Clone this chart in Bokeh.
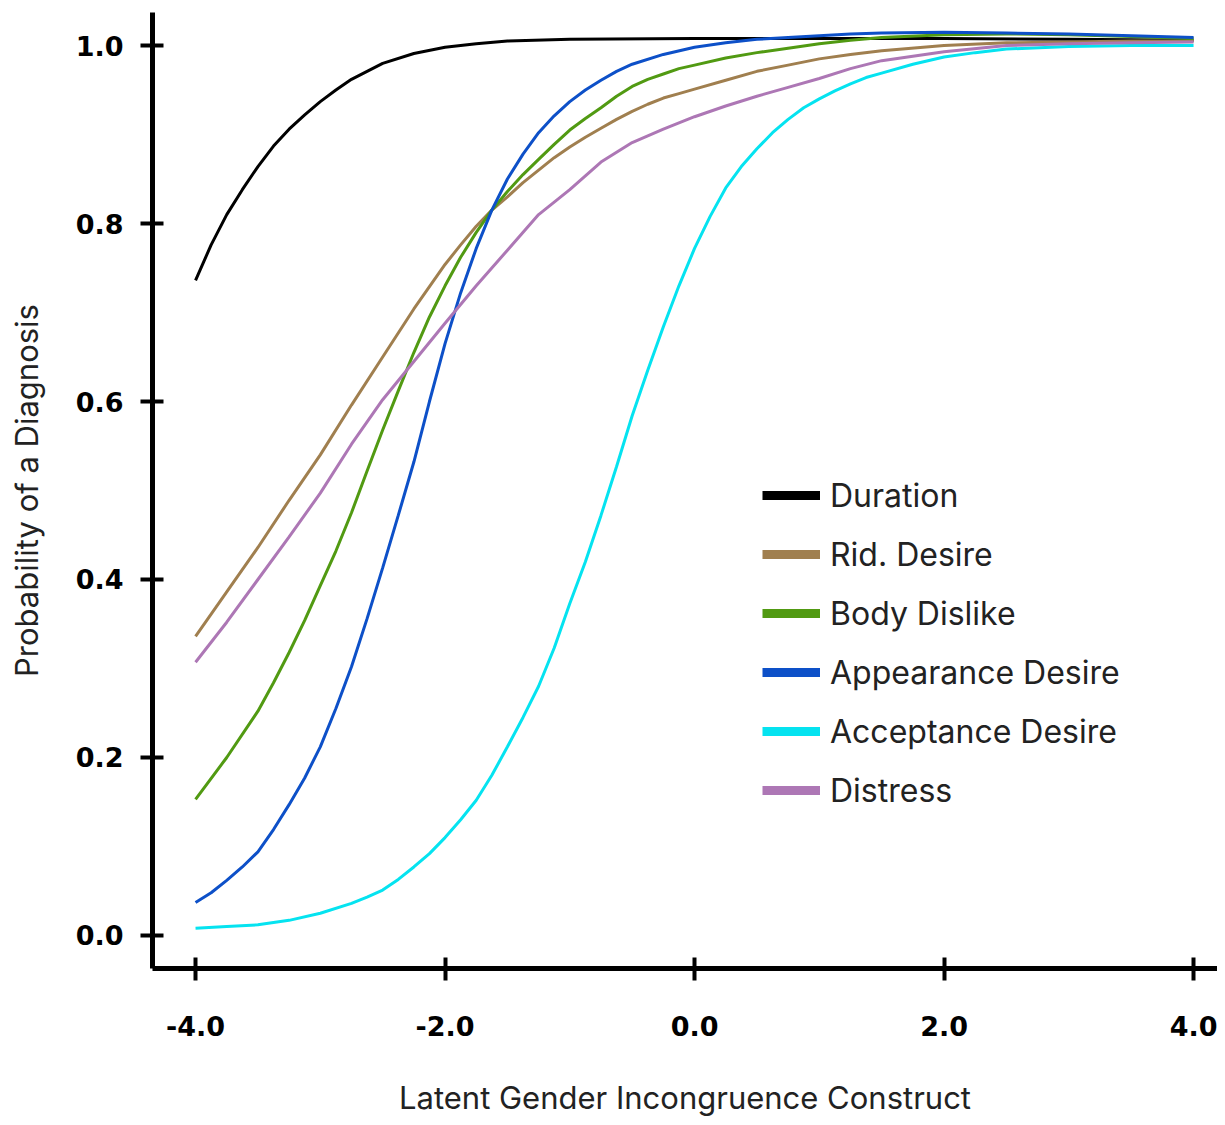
from bokeh.plotting import figure
from bokeh.models import FixedTicker, PrintfTickFormatter, Legend, LegendItem, Range1d
from bokeh.embed import file_html
from bokeh.resources import INLINE

# ---- data ----
duration_x = [-4.0, -3.875, -3.75, -3.625, -3.5, -3.375, -3.25, -3.125, -3.0, -2.875, -2.75,
              -2.5, -2.25, -2.0, -1.75, -1.5, -1.0, 0.0, 1.0, 2.0, 3.0, 4.0]
duration = [0.736, 0.776, 0.810, 0.838, 0.864, 0.887, 0.906, 0.922, 0.937, 0.950, 0.962,
            0.980, 0.991, 0.998, 1.002, 1.005, 1.007, 1.008, 1.008, 1.008, 1.007, 1.006]

rid_x = [-4.0, -3.75, -3.5, -3.25, -3.0, -2.75, -2.5, -2.25, -2.0, -1.875, -1.75, -1.625, -1.5,
         -1.375, -1.25, -1.125, -1.0, -0.875, -0.75, -0.625, -0.5, -0.375, -0.25, -0.125, 0.0,
         0.25, 0.5, 0.75, 1.0, 1.25, 1.5, 2.0, 2.5, 3.0, 3.5, 4.0]
rid_desire = [0.336, 0.386, 0.436, 0.489, 0.540, 0.596, 0.650, 0.704, 0.754, 0.776, 0.797, 0.815, 0.830,
              0.846, 0.860, 0.874, 0.886, 0.897, 0.907, 0.917, 0.926, 0.934, 0.941, 0.946, 0.951,
              0.961, 0.971, 0.978, 0.985, 0.990, 0.994, 1.000, 1.003, 1.004, 1.005, 1.005]

body_x = [-4.0, -3.75, -3.5, -3.375, -3.25, -3.125, -3.0, -2.875, -2.75, -2.625, -2.5, -2.375,
          -2.25, -2.125, -2.0, -1.875, -1.75, -1.625, -1.5, -1.375, -1.25, -1.125, -1.0, -0.875,
          -0.75, -0.625, -0.5, -0.375, -0.25, -0.125, 0.0, 0.25, 0.5, 0.75, 1.0, 1.25, 1.5,
          2.0, 2.5, 3.0, 3.5, 4.0]
body_dislike = [0.153, 0.200, 0.252, 0.284, 0.318, 0.354, 0.393, 0.432, 0.475, 0.522, 0.568, 0.612,
                0.655, 0.695, 0.730, 0.762, 0.790, 0.815, 0.836, 0.855, 0.872, 0.889, 0.905, 0.918,
                0.930, 0.943, 0.954, 0.962, 0.968, 0.974, 0.978, 0.986, 0.992, 0.997, 1.002, 1.006, 1.009,
                1.012, 1.013, 1.012, 1.010, 1.008]

appear_x = [-4.0, -3.875, -3.75, -3.625, -3.5, -3.375, -3.25, -3.125, -3.0, -2.875, -2.75, -2.625,
            -2.5, -2.375, -2.25, -2.125, -2.0, -1.875, -1.75, -1.625, -1.5, -1.375, -1.25, -1.125,
            -1.0, -0.875, -0.75, -0.625, -0.5, -0.25, 0.0, 0.25, 0.5, 0.75, 1.0, 1.25, 1.5,
            2.0, 2.5, 3.0, 3.5, 4.0]
appearance_desire = [0.037, 0.048, 0.062, 0.077, 0.094, 0.119, 0.147, 0.177, 0.212, 0.255, 0.302, 0.356,
                     0.413, 0.472, 0.532, 0.600, 0.665, 0.722, 0.772, 0.815, 0.850, 0.878, 0.902, 0.921,
                     0.937, 0.950, 0.961, 0.971, 0.979, 0.990, 0.998, 1.003, 1.007, 1.009, 1.011, 1.013, 1.014,
                     1.015, 1.014, 1.013, 1.011, 1.009]

accept_x = [-4.0, -3.75, -3.5, -3.25, -3.0, -2.75, -2.625, -2.5, -2.375, -2.25, -2.125, -2.0, -1.875,
            -1.75, -1.625, -1.5, -1.375, -1.25, -1.125, -1.0, -0.875, -0.75, -0.625, -0.5, -0.375,
            -0.25, -0.125, 0.0, 0.125, 0.25, 0.375, 0.5, 0.625, 0.75, 0.875, 1.0, 1.125, 1.25, 1.375,
            1.5, 1.75, 2.0, 2.25, 2.5, 3.0, 3.5, 4.0]
acceptance_desire = [0.008, 0.010, 0.012, 0.017, 0.025, 0.036, 0.043, 0.051, 0.063, 0.077, 0.092, 0.110, 0.130,
                     0.152, 0.180, 0.212, 0.245, 0.280, 0.323, 0.373, 0.420, 0.472, 0.527, 0.584, 0.635,
                     0.684, 0.730, 0.772, 0.808, 0.840, 0.864, 0.884, 0.902, 0.917, 0.930, 0.940, 0.949, 0.957, 0.964,
                     0.969, 0.979, 0.987, 0.992, 0.996, 0.999, 1.000, 1.000]

distress_x = [-4.0, -3.75, -3.5, -3.25, -3.0, -2.75, -2.5, -2.25, -2.0, -1.75, -1.5, -1.25,
              -1.0, -0.75, -0.5, -0.25, 0.0, 0.25, 0.5, 0.75, 1.0, 1.25, 1.5,
              2.0, 2.5, 3.0, 3.5, 4.0]
distress = [0.307, 0.352, 0.400, 0.448, 0.497, 0.552, 0.602, 0.645, 0.688, 0.730, 0.770, 0.810,
            0.838, 0.869, 0.891, 0.906, 0.920, 0.932, 0.943, 0.953, 0.963, 0.974, 0.983,
            0.993, 1.000, 1.002, 1.003, 1.004]

series_names = ["Duration", "Rid. Desire", "Body Dislike", "Appearance Desire",
                "Acceptance Desire", "Distress"]
series_x = [duration_x, rid_x, body_x, appear_x, accept_x, distress_x]
series_values = [duration, rid_desire, body_dislike, appearance_desire,
                 acceptance_desire, distress]
series_colors = ["#000000", "#a07f4f", "#519a12", "#0d50c8", "#05e3f0", "#ad77b5"]

x_ticks = [-4, -2, 0, 2, 4]
y_ticks = [0.0, 0.2, 0.4, 0.6, 0.8, 1.0]
x_title = "Latent Gender Incongruence Construct"
y_title = "Probability of a Diagnosis"

# ---- figure ----
p = figure(width=1217, height=1125, output_backend="svg", toolbar_location=None,
           x_range=Range1d(-4.345, 4.192), y_range=Range1d(-0.0371, 1.0371),
           min_border_left=152, min_border_right=0, min_border_top=12, min_border_bottom=157)
p.outline_line_color = None
p.grid.visible = False
p.background_fill_color = "white"

for xs, vals, col in zip(series_x, series_values, series_colors):
    p.line(xs, vals, line_color=col, line_width=3)

# legend with thick swatches (placeholder renderers used only for the legend glyphs)
nan = float("nan")
items = []
for name, col in zip(series_names, series_colors):
    r = p.line(x=[nan], y=[nan], line_color=col, line_width=9)
    items.append(LegendItem(label=name, renderers=[r]))

legend = Legend(items=items, location=(610, 158), orientation="vertical",
                glyph_width=58, glyph_height=40, spacing=19, padding=0, margin=0,
                label_standoff=10, label_text_font="Inter", label_text_font_size="32px",
                label_text_color="#222222", border_line_color=None,
                background_fill_alpha=0)
p.add_layout(legend, "center")

# axes
for ax in (p.xaxis, p.yaxis):
    ax.axis_line_width = 5
    ax.axis_line_color = "black"
    ax.major_tick_line_width = 4
    ax.major_tick_line_color = "black"
    ax.major_tick_in = 11
    ax.major_tick_out = 12
    ax.minor_tick_line_color = None
    ax.major_label_text_font = "DejaVu Sans"
    ax.major_label_text_font_style = "bold"
    ax.major_label_text_font_size = "27px"
    ax.major_label_text_color = "black"
    ax.axis_label_text_font = "Inter"
    ax.axis_label_text_font_style = "normal"
    ax.axis_label_text_font_size = "31px"
    ax.axis_label_text_color = "#222222"
    ax.formatter = PrintfTickFormatter(format="%.1f")

p.xaxis.ticker = FixedTicker(ticks=x_ticks)
p.yaxis.ticker = FixedTicker(ticks=y_ticks)
p.xaxis.major_label_standoff = 35
p.yaxis.major_label_standoff = 17
p.xaxis.axis_label = x_title
p.yaxis.axis_label = y_title
p.xaxis.axis_label_standoff = 40
p.yaxis.axis_label_standoff = 28

open("out.html", "w").write(file_html(p, INLINE))
